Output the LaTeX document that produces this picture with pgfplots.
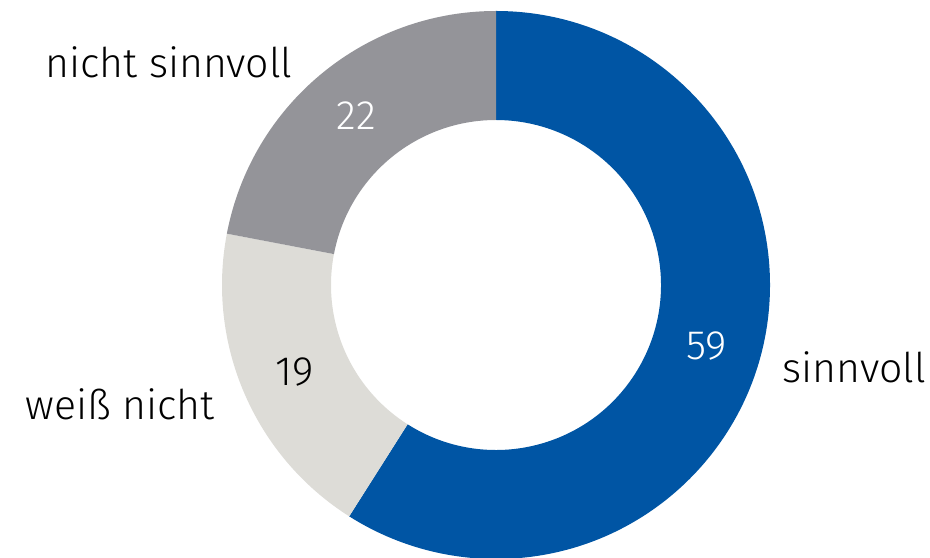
\documentclass[border=0pt]{standalone}
\usepackage{fontspec}
\setmainfont{Fira Sans}[UprightFont=* Light]
\usepackage{pgfplots}
\pgfplotsset{compat=1.18}
\usepackage{pgfplotstable}

\definecolor{cblue}{RGB}{0,85,164}
\definecolor{clight}{RGB}{221,220,215}
\definecolor{cdark}{RGB}{148,148,153}

% shares in percent, clockwise from 12 o'clock
\pgfplotstableread{
value
59
19
22
}\shares

\pgfplotstablegetelem{0}{value}\of\shares \let\va\pgfplotsretval
\pgfplotstablegetelem{1}{value}\of\shares \let\vb\pgfplotsretval
\pgfplotstablegetelem{2}{value}\of\shares \let\vc\pgfplotsretval

\pgfmathsetmacro{\aA}{90}
\pgfmathsetmacro{\aB}{\aA-3.6*\va}
\pgfmathsetmacro{\aC}{\aB-3.6*\vb}
\pgfmathsetmacro{\aD}{\aC-3.6*\vc}
\pgfmathsetmacro{\mA}{(\aA+\aB)/2}
\pgfmathsetmacro{\mB}{(\aB+\aC)/2}
\pgfmathsetmacro{\mC}{(\aC+\aD)/2}

\def\Ro{137pt}
\def\Ri{82.5pt}
\def\Rm{109.75pt}
\newcommand{\lbl}{\fontsize{20.5}{24}\selectfont}

\newcommand{\ringpart}[3]{%
  \fill[#3] (C) ++(#1:\Ro) arc[start angle=#1, end angle=#2, radius=\Ro]
    -- ([shift={(#2:\Ri)}]C) arc[start angle=#2, end angle=#1, radius=\Ri] -- cycle;}

\begin{document}
\begin{tikzpicture}
\begin{axis}[
  scale only axis,
  width=465pt, height=278.5pt,
  xmin=0, xmax=930, ymin=0, ymax=557,
  hide axis, clip=false,
]
\coordinate (C) at (axis cs:496,272);
\ringpart{\aA}{\aB}{cblue}
\ringpart{\aB}{\aC}{clight}
\ringpart{\aC}{\aD}{cdark}

\node[font=\lbl, text=white] at ([shift={(\mA:\Rm)}]C) {59};
\node[font=\lbl, text=black] at ([shift={(\mB:\Rm)}]C) {19};
\node[font=\lbl, text=white] at ([shift={(\mC:\Rm)}]C) {22};

\node[font=\lbl, anchor=west, inner sep=0pt] at (axis cs:782,190) {sinnvoll};
\node[font=\lbl, anchor=east, inner sep=0pt] at (axis cs:215,153) {weiß nicht};
\node[font=\lbl, anchor=east, inner sep=0pt] at (axis cs:293,495) {nicht sinnvoll};
\end{axis}
\pgfresetboundingbox
\path (current axis.south west) rectangle (current axis.north east);
\end{tikzpicture}
\end{document}
